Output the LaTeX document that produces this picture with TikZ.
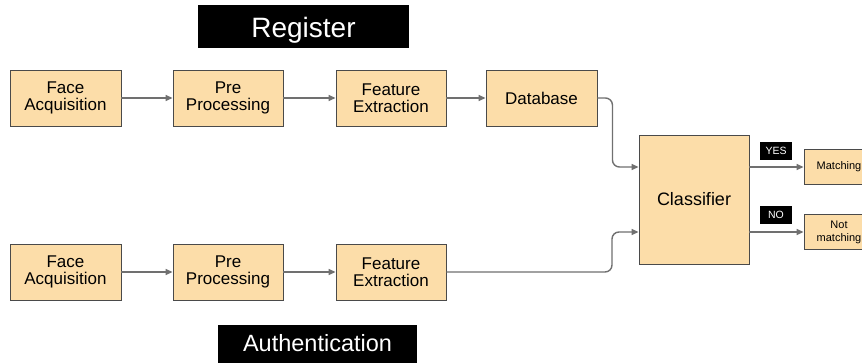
\documentclass[tikz,border=0pt]{standalone}
\usepackage{fontspec}
\setmainfont{Liberation Sans}
\usetikzlibrary{arrows.meta}
\definecolor{boxfill}{HTML}{FCDDA9}
\definecolor{boxline}{HTML}{4A4A4A}
\definecolor{linkgray}{HTML}{707070}
\begin{document}
\begin{tikzpicture}[x=1pt,y=-1pt,
  stage/.style={draw=boxline,line width=0.9pt,fill=boxfill,minimum width=111pt,minimum height=56pt,
    align=center,font=\fontsize{17}{17}\selectfont,inner sep=0pt},
  outcome/.style={draw=boxline,line width=0.9pt,fill=boxfill,minimum width=70pt,minimum height=35pt,
    align=center,font=\fontsize{11}{13}\selectfont,inner sep=0pt},
  tag/.style={fill=black,text=white,inner sep=0pt,font=\fontsize{10.5}{12}\selectfont,minimum width=32pt,minimum height=18pt},
  banner/.style={fill=black,inner sep=0pt},
  bannertext/.style={text=white,inner sep=0pt,anchor=base},
  link/.style={draw=linkgray,line width=1.4pt,-{Triangle[length=7pt,width=6pt]}}]
\clip (0,0) rectangle (862,363);
\fill[white] (0,0) rectangle (862,363);

% headings
\node[banner,minimum width=211pt,minimum height=43pt] (reg) at (303.5,26.5) {};
\node[bannertext,font=\fontsize{28}{32}\selectfont] (regtext) at (303.5,37.7) {Register};
\node[banner,minimum width=199pt,minimum height=40pt] (auth) at (317.5,345) {};
\node[bannertext,font=\fontsize{23.5}{28}\selectfont] (authtext) at (317.5,351.7) {Authentication};

% registration row
\node[stage] (fa1) at (65.5,98) {Face\\Acquisition};
\node[stage,minimum width=110pt] (pp1) at (228,98) {Pre\\Processing};
\node[stage,minimum width=110pt] (fe1) at (391,98) {Feature\\Extraction};
\node[stage] (db) at (541.5,98) {Database};

% authentication row
\node[stage] (fa2) at (65.5,272) {Face\\Acquisition};
\node[stage,minimum width=110pt] (pp2) at (228,272) {Pre\\Processing};
\node[stage,minimum width=110pt] (fe2) at (391,272) {Feature\\Extraction};

% decision
\node[stage,minimum width=110pt,minimum height=129pt,font=\fontsize{18}{20}\selectfont] (cls) at (694,199.5) {Classifier};
\node[outcome] (match) at (839,167) {Matching};
\node[outcome] (nomatch) at (839,232) {Not\\matching};
\node[tag] (yes) at (776,151) {YES};
\node[tag] (no) at (776,215) {NO};

% connectors
\draw[link] (fa1) -- (pp1);
\draw[link] (pp1) -- (fe1);
\draw[link] (fe1) -- (db);
\draw[link] (fa2) -- (pp2);
\draw[link] (pp2) -- (fe2);
\draw[link,rounded corners=7pt] (db.east) -- ++(15,0) |- ([yshift=32.5pt]cls.west);
\draw[link,rounded corners=7pt] (fe2.east) -- (612,272) |- ([yshift=-32.5pt]cls.west);
\draw[link] ([yshift=32.5pt]cls.east) -- (match.west);
\draw[link] ([yshift=-32.5pt]cls.east) -- (nomatch.west);
\end{tikzpicture}
\end{document}
